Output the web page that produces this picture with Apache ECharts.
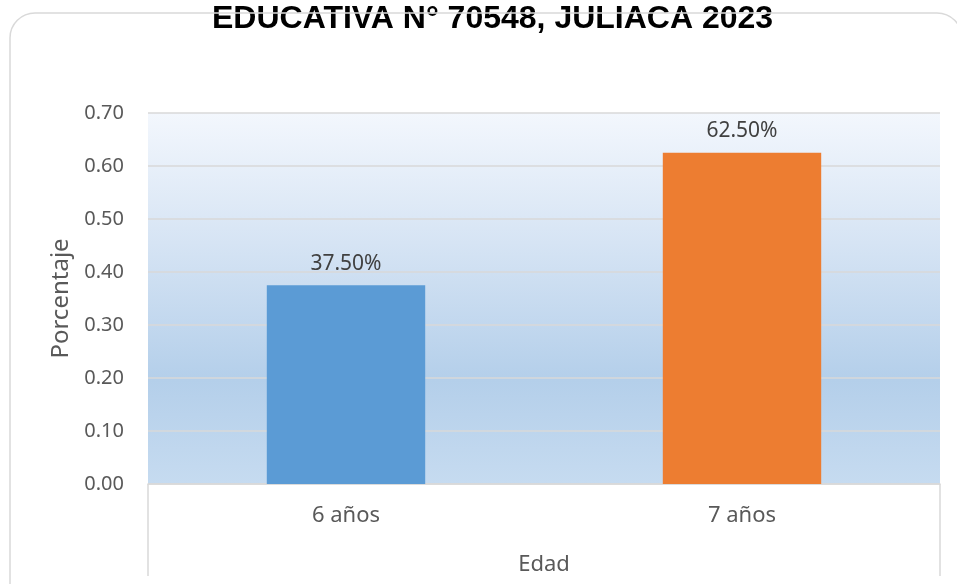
<!DOCTYPE html>
<html>
<head>
<meta charset="utf-8">
<script src="https://cdn.jsdelivr.net/npm/echarts@6/dist/echarts.min.js"></script>
<style>
  html, body { margin: 0; padding: 0; background: #fff; }
  #main { width: 957px; height: 584px; }
</style>
</head>
<body>
<div id="main"></div>
<script>
// datos del grafico
var edades = ['6 años', '7 años'];
var porcentajes = [0.375, 0.625];
var colores = ['#5b9bd5', '#ed7d31'];
var ticksY = [0, 0.7, 0.1]; // min, max, intervalo

var chart = echarts.init(document.getElementById('main'));

var option = {
  animation: false,
  title: {
    text: 'EDUCATIVA N° 70548, JULIACA 2023',
    left: 207,
    top: -2,
    textStyle: {
      fontFamily: 'Liberation Sans',
      fontWeight: 'bold',
      fontSize: 32,
      color: '#000'
    }
  },
  graphic: [
    {
      // marco redondeado del grafico
      type: 'rect',
      z: 100,
      silent: true,
      shape: { x: 10, y: 13, width: 952, height: 600, r: 25 },
      style: { fill: 'none', stroke: '#d9d9d9', lineWidth: 1.5 }
    }
  ],
  grid: {
    left: 148,
    right: 17,
    top: 113,
    bottom: 100,
    show: true,
    borderWidth: 0,
    backgroundColor: {
      type: 'linear', x: 0, y: 0, x2: 0, y2: 1,
      colorStops: [
        { offset: 0, color: '#f3f7fd' },
        { offset: 0.35, color: '#d6e4f4' },
        { offset: 0.72, color: '#b4cfea' },
        { offset: 1, color: '#c6dbf0' }
      ]
    }
  },
  xAxis: {
    type: 'category',
    data: edades,
    name: 'Edad',
    nameLocation: 'middle',
    nameGap: 70,
    nameTextStyle: { fontFamily: 'Noto Sans', fontSize: 22, color: '#595959' },
    axisLine: { show: true, lineStyle: { color: '#d9d9d9', width: 1.5 } },
    axisTick: {
      show: true,
      length: 92,
      interval: function (i) { return i === 0; },
      lineStyle: { color: '#d9d9d9', width: 1.5 }
    },
    axisLabel: {
      margin: 21,
      fontFamily: 'Noto Sans',
      fontSize: 22,
      color: '#595959'
    }
  },
  yAxis: {
    type: 'value',
    min: ticksY[0],
    max: ticksY[1],
    interval: ticksY[2],
    name: 'Porcentaje',
    nameLocation: 'middle',
    nameGap: 72,
    nameTextStyle: { fontFamily: 'Noto Sans', fontSize: 24, color: '#595959' },
    axisLine: { show: false },
    axisTick: { show: false },
    axisLabel: {
      margin: 24,
      fontFamily: 'Noto Sans',
      fontSize: 20,
      color: '#595959',
      formatter: function (v) { return v.toFixed(2); }
    },
    splitLine: { lineStyle: { color: '#d9d9d9', width: 1.5 } }
  },
  series: [
    {
      type: 'bar',
      barWidth: '40%',
      data: porcentajes.map(function (v, i) {
        return { value: v, itemStyle: { color: colores[i] } };
      }),
      label: {
        show: true,
        position: 'top',
        distance: 11,
        fontFamily: 'Noto Sans',
        fontSize: 21,
        color: '#404040',
        formatter: function (p) { return (p.value * 100).toFixed(2) + '%'; }
      }
    }
  ]
};

chart.setOption(option);
</script>
</body>
</html>
